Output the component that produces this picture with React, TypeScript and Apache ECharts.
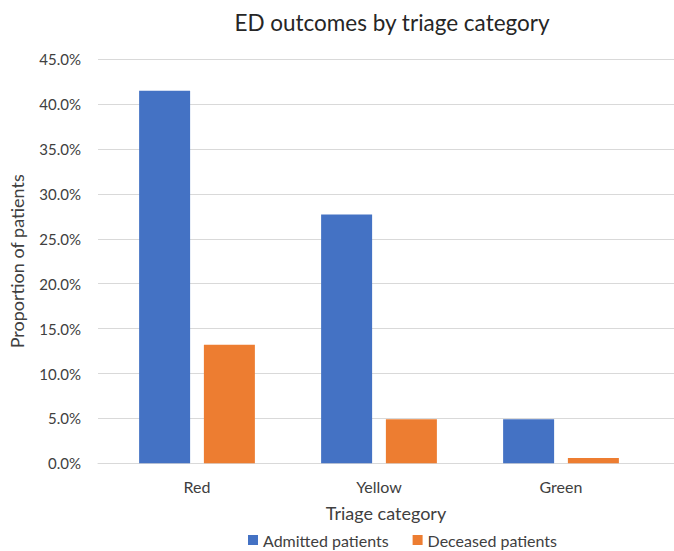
import React, { useEffect, useRef } from "react";
import * as echarts from "echarts";

const categories = ["Red", "Yellow", "Green"];
const admitted = [41.5, 27.7, 4.9];
const deceased = [13.2, 4.9, 0.6];
const seriesNames = ["Admitted patients", "Deceased patients"];

const FONT = "Lato, 'Open Sans', sans-serif";
const TXT = "#404040";

export default function App() {
  const ref = useRef<HTMLDivElement>(null);
  useEffect(() => {
    if (!ref.current) return;
    const chart = echarts.init(ref.current, undefined, { renderer: "svg" });
    const yBase = {
      type: "value" as const,
      min: 0,
      max: 45,
      interval: 5,
    };
    chart.setOption({
      animation: false,
      textStyle: { fontFamily: FONT },
      title: {
        text: "ED outcomes by triage category",
        left: 387,
        top: 6,
        textAlign: "center",
        textStyle: { fontFamily: FONT, fontSize: 22.5, fontWeight: "normal", color: "#262626" },
      },
      legend: {
        data: seriesNames,
        top: 532,
        left: 248,
        padding: 0,
        itemWidth: 10,
        itemHeight: 10,
        itemGap: 24,
        icon: "rect",
        textStyle: { fontFamily: FONT, fontSize: 16, color: TXT },
      },
      grid: [
        { left: 92, right: 0, top: 59.3, bottom: 87.7 },
        { left: 106, right: 22, top: 59.3, bottom: 87.7 },
      ],
      xAxis: [
        {
          gridIndex: 0,
          type: "category",
          data: categories,
          axisLine: { show: true, lineStyle: { color: "#D9D9D9", width: 1 } },
          axisTick: { show: false },
          axisLabel: { show: false },
          name: "Triage category",
          nameLocation: "middle",
          nameGap: 41,
          nameTextStyle: { fontFamily: FONT, fontSize: 18, color: TXT },
        },
        {
          gridIndex: 1,
          type: "category",
          data: categories,
          axisLine: { show: false },
          axisTick: { show: false },
          axisLabel: { fontFamily: FONT, fontSize: 16, color: TXT, margin: 15 },
        },
      ],
      yAxis: [
        {
          ...yBase,
          gridIndex: 0,
          axisLine: { show: false },
          axisTick: { show: false },
          splitLine: { lineStyle: { color: "#D9D9D9", width: 1 } },
          axisLabel: {
            fontFamily: FONT,
            fontSize: 15,
            color: TXT,
            margin: 17,
            formatter: (v: number) => v.toFixed(1) + "%",
          },
          name: "Proportion of patients",
          nameLocation: "middle",
          nameGap: 72,
          nameTextStyle: { fontFamily: FONT, fontSize: 18, color: TXT },
        },
        {
          ...yBase,
          gridIndex: 1,
          axisLine: { show: false },
          axisTick: { show: false },
          splitLine: { show: false },
          axisLabel: { show: false },
        },
      ],
      series: [
        {
          name: seriesNames[0],
          type: "bar",
          xAxisIndex: 1,
          yAxisIndex: 1,
          data: admitted,
          barWidth: 51,
          barGap: "27%",
          itemStyle: { color: "#4472C4" },
        },
        {
          name: seriesNames[1],
          type: "bar",
          xAxisIndex: 1,
          yAxisIndex: 1,
          data: deceased,
          barWidth: 51,
          barGap: "27%",
          itemStyle: { color: "#ED7D31" },
        },
      ],
    });
    return () => chart.dispose();
  }, []);
  return <div ref={ref} style={{ width: 674, height: 551, position: "absolute", left: 0, top: 0 }} />;
}
